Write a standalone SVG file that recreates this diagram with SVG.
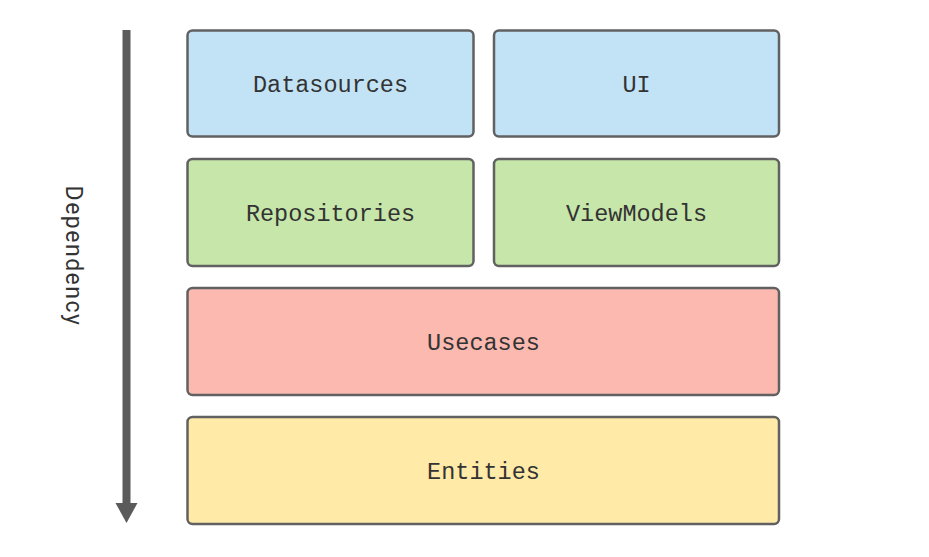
<svg xmlns="http://www.w3.org/2000/svg" width="929" height="557" viewBox="0 0 929 557">
<style>
.box{stroke:#616161;stroke-width:2.5}
.lbl{font-family:"Liberation Mono",monospace;font-size:23.5px;fill:#333;text-anchor:middle;dominant-baseline:central}
</style>
<rect width="929" height="557" fill="#fff"/>
<g id="connectors">
<rect x="122.5" y="30" width="8" height="475" fill="#5b5b5b"/>
<polygon points="115.5,503 137.5,503 126.5,523" fill="#5b5b5b"/>
<text x="73" y="256" transform="rotate(90 73 256)" font-family="Roboto,sans-serif" font-size="23" letter-spacing="1.5" fill="#333" text-anchor="middle" dominant-baseline="central">Dependency</text>
</g>
<g id="datasources"><rect class="box" x="187.5" y="30.5" width="286" height="106" rx="5" fill="#c2e3f5"/><text class="lbl" x="330.5" y="85.5">Datasources</text></g>
<g id="ui"><rect class="box" x="494" y="30.5" width="285" height="106" rx="5" fill="#c2e3f5"/><text class="lbl" x="636.5" y="85.5">UI</text></g>
<g id="repositories"><rect class="box" x="187.5" y="159" width="286" height="107" rx="5" fill="#c6e6aa"/><text class="lbl" x="330.5" y="214.5">Repositories</text></g>
<g id="viewmodels"><rect class="box" x="494" y="159" width="285" height="107" rx="5" fill="#c6e6aa"/><text class="lbl" x="636.5" y="214.5">ViewModels</text></g>
<g id="usecases"><rect class="box" x="187.5" y="288" width="591.5" height="107" rx="5" fill="#fbb9b0"/><text class="lbl" x="483.5" y="343.5">Usecases</text></g>
<g id="entities"><rect class="box" x="187.5" y="417" width="591.5" height="107" rx="5" fill="#ffeaa8"/><text class="lbl" x="483.5" y="472.5">Entities</text></g>
</svg>
